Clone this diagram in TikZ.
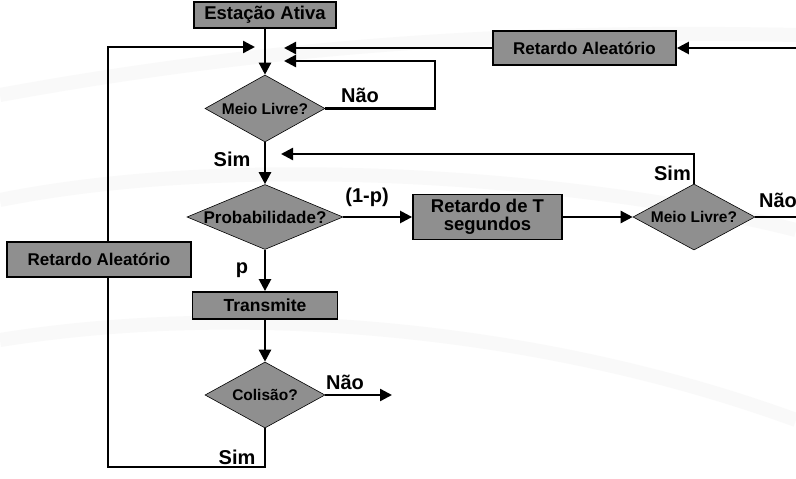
\documentclass[tikz,border=0pt]{standalone}
\usepackage{fontspec}
\setmainfont{Liberation Sans}[BoldFont={Liberation Sans Bold}]
\usetikzlibrary{shapes.geometric,arrows.meta}
\definecolor{boxfill}{RGB}{143,143,143}
\definecolor{swoosh}{RGB}{249,249,249}
\begin{document}
\begin{tikzpicture}[x=1pt,y=-1pt,
  flowline/.style={line width=2.4pt,draw=black},
  arr/.style={flowline,-{Triangle[length=12pt,width=12pt]}},
  stepbox/.style={rectangle,draw=black,line width=1.8pt,fill=boxfill,inner sep=0pt,
    font=\bfseries\fontsize{#1}{#1}\selectfont,align=center},
  stepbox/.default=17,
  decision/.style={diamond,draw=black,line width=0.6pt,fill=boxfill,inner sep=0pt},
  dtext/.style={font=\bfseries\fontsize{#1}{#1}\selectfont},
  dtext/.default=15.5,
  tag/.style={font=\bfseries\fontsize{20}{20}\selectfont,inner sep=0pt}]
\useasboundingbox (0,0) rectangle (796,479);
\fill[white] (0,0) rectangle (796,479);
% faint background swooshes
\begin{scope}[line width=14pt,draw=swoosh]
  \draw (0,95) .. controls (300,40) and (550,30) .. (796,35);
  \draw (0,200) .. controls (250,150) and (600,180) .. (796,230);
  \draw (0,340) .. controls (250,300) and (550,330) .. (796,420);
\end{scope}

% boxes
\node[stepbox=18.5,minimum width=142pt,minimum height=26pt] (ativa) at (265,15) {Estação Ativa};
\node[stepbox,minimum width=183pt,minimum height=34pt] (raTop) at (584.5,48) {Retardo Aleatório};
\node[stepbox,minimum width=184pt,minimum height=35pt] (raLeft) at (99,259.5) {Retardo Aleatório};
\node[stepbox=18.5,minimum width=149pt,minimum height=45pt] (retT) at (487.5,217) {Retardo de T\\segundos};
\node[stepbox=17.5,minimum width=145pt,minimum height=27pt] (trans) at (265,305.5) {Transmite};

% decisions
\node[decision,minimum width=120pt,minimum height=67pt,
  label={[dtext]center:Meio Livre?}] (ml1) at (265,108.5) {};
\node[decision,minimum width=156pt,minimum height=65pt,
  label={[dtext=17]center:Probabilidade?}] (prob) at (265,217) {};
\node[decision,minimum width=122pt,minimum height=66pt,
  label={[dtext]center:Meio Livre?}] (ml2) at (694,217) {};
\node[decision,minimum width=120pt,minimum height=66pt,
  label={[dtext]center:Colisão?}] (col) at (265,395) {};

% free ends of connectors
\coordinate (inL) at (255,47);
\coordinate (inR1) at (284,48);
\coordinate (inR2) at (284,61);
\coordinate (inR3) at (281,154);
\coordinate (rightIn) at (796,48);
\coordinate (rightOut) at (796,217);
\coordinate (colOut) at (392,395);
\coordinate (cornerBL) at (108,467);
\coordinate (cornerNR) at (435,108.5);

% main flow
\draw[arr] (ativa.south) -- (ml1.north);
\draw[arr] (ml1.south) -- (prob.north);
\draw[arr] (prob.south) -- (trans.north);
\draw[arr] (trans.south) -- (col.north);

% back-off loop
\draw[flowline] (col.south) |- (cornerBL) -- (cornerBL |- raLeft.south);
\draw[arr] (cornerBL |- raLeft.north) |- (inL);

% random delay from the right
\draw[arr] (rightIn) -- (raTop.east);
\draw[arr] (raTop.west) -- (inR1);

% busy medium loop
\draw[arr] (ml1.east) -- (cornerNR) |- (inR2);

% persistence branch
\draw[arr] (prob.east) -- (retT.west);
\draw[arr] (retT.east) -- (ml2.west);
\draw[arr] (ml2.north) |- (inR3);
\draw[flowline] (ml2.east) -- (rightOut);

% no collision
\draw[arr] (col.east) -- (colOut);

% labels
\node[tag] (lNao1) at (360,95) {Não};
\node[tag] (lSim1) at (232,159) {Sim};
\node[tag] (l1p) at (367,197) {(1-p)};
\node[tag,anchor=east] (lSim2) at (691,173) {Sim};
\node[tag] (lNao2) at (778,200) {Não};
\node[tag] (lp) at (242,270) {p};
\node[tag] (lNao3) at (345,382) {Não};
\node[tag] (lSim3) at (237,457) {Sim};
\end{tikzpicture}
\end{document}
